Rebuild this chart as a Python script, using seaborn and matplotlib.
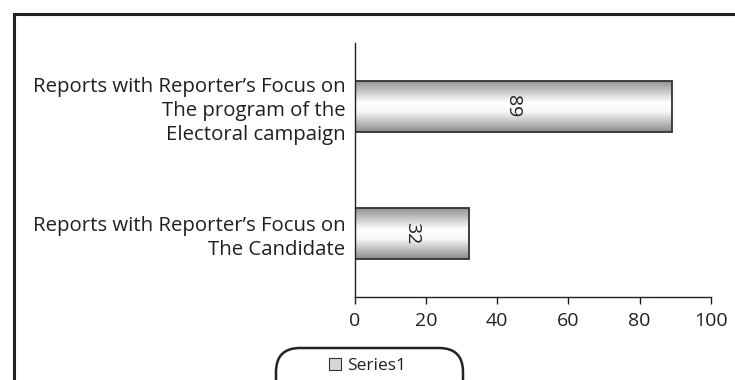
import numpy as np
import matplotlib
matplotlib.use("Agg")
import matplotlib.pyplot as plt
import seaborn as sns
import pandas as pd
from matplotlib.patches import FancyBboxPatch, Rectangle, Patch

# Data
categories = [
    "Reports with Reporter’s Focus on\nThe program of the\nElectoral campaign",
    "Reports with Reporter’s Focus on\nThe Candidate",
]
values = [89, 32]
series_name = "Series1"
x_ticks = [0, 20, 40, 60, 80, 100]

INK = "#231f20"

sns.set_theme(style="white")
plt.rcParams["font.family"] = ["Open Sans", "DejaVu Sans"]
plt.rcParams["text.color"] = INK

fig = plt.figure(figsize=(7.35, 3.8), dpi=100)
fig.patch.set_facecolor("white")
ax = fig.add_axes([0.483, 0.2184, 0.484, 0.6684])

df = pd.DataFrame({"category": categories, "value": values})
sns.barplot(data=df, x="value", y="category", orient="h", width=0.4,
            color="white", edgecolor="#333333", linewidth=1.3, ax=ax)

ax.set_xlim(0, 100)
ax.set_ylim(1.5, -0.5)

# Cylinder-style shading across each bar's thickness
prof_pos = [0.0, 0.42, 0.6, 1.0]
prof_val = [0.58, 1.0, 0.97, 0.55]
t = np.linspace(0, 1, 128)
shade = np.interp(t, prof_pos, prof_val)
grad = np.repeat(shade[:, None, None], 3, axis=2)

for patch, v in zip(ax.patches, values):
    x0, y0 = patch.get_x(), patch.get_y()
    w, h = patch.get_width(), patch.get_height()
    im = ax.imshow(grad, extent=(x0, x0 + w, y0 + h, y0), origin="upper",
                   aspect="auto", interpolation="bilinear",
                   zorder=patch.get_zorder() - 0.1)
    im.set_clip_path(patch)
    patch.set_facecolor("none")
    ax.text(x0 + w / 2, y0 + h / 2, f"{v}", rotation=-90, ha="center",
            va="center", fontsize=14, color=INK)

ax.set_xlim(0, 100)
ax.set_ylim(1.5, -0.5)
ax.set_xticks(x_ticks)
ax.set_xticklabels([str(v) for v in x_ticks])
ax.set_xlabel("")
ax.set_ylabel("")

for side in ("top", "right"):
    ax.spines[side].set_visible(False)
for side in ("left", "bottom"):
    ax.spines[side].set_color(INK)
    ax.spines[side].set_linewidth(1.0)

ax.tick_params(axis="x", direction="out", length=5, width=1, color=INK,
               pad=6, labelsize=14, labelcolor=INK, bottom=True)
ax.tick_params(axis="y", length=0, pad=7, labelsize=14.7, labelcolor=INK)
for lab in ax.get_yticklabels():
    lab.set_horizontalalignment("right")
    lab.set_multialignment("right")
    lab.set_linespacing(1.28)

# Outer frame
fig.add_artist(Rectangle((0.135, -0.5), 8.0, 3.665 + 0.5,
                         transform=fig.dpi_scale_trans, fill=False,
                         edgecolor="#222222", linewidth=2.2, clip_on=False))

# Rounded legend box
fig.add_artist(FancyBboxPatch((2.76, -0.5), 1.87, 0.82,
                              boxstyle="round,pad=0,rounding_size=0.24",
                              transform=fig.dpi_scale_trans, fill=False,
                              edgecolor="#222222", linewidth=1.8))
fig.legend(handles=[Patch(facecolor="#d6d6d6", edgecolor="#333333", linewidth=0.8)],
           labels=[series_name], loc="center", bbox_to_anchor=(0.50, 0.037),
           frameon=False, handlelength=0.65, handleheight=0.65,
           handletextpad=0.35, fontsize=12.5)

fig.savefig("out.png", dpi=100)
